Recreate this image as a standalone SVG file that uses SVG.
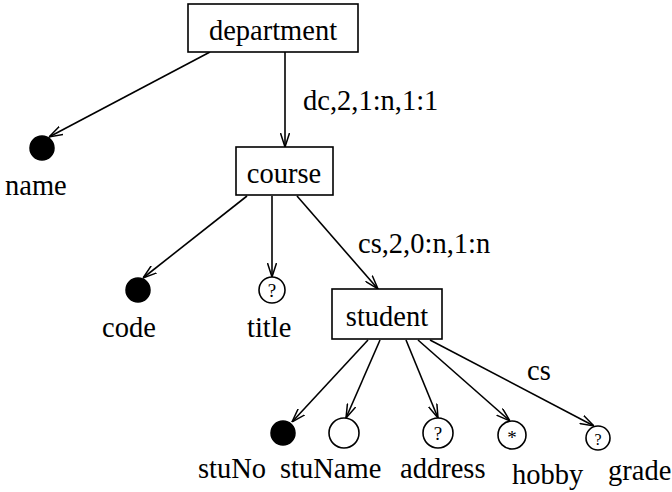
<svg xmlns="http://www.w3.org/2000/svg" width="672" height="492" viewBox="0 0 672 492">
<style>
.box{fill:#fff;stroke:#000;stroke-width:1.6}
.t{font-family:"Liberation Serif","Times New Roman",serif;font-size:28.5px;fill:#000}
.m{font-family:"Liberation Serif","Times New Roman",serif;font-size:19px;fill:#000;text-anchor:middle}
.c{text-anchor:middle}
.dot{fill:#000;stroke:#000;stroke-width:1.5}
.open{fill:#fff;stroke:#000;stroke-width:1.6}
.e{stroke:#000;stroke-width:1.6;fill:none;marker-end:url(#arr)}
</style>
<defs>
<marker id="arr" viewBox="0 0 14 10" refX="14" refY="5" markerWidth="14" markerHeight="10" markerUnits="userSpaceOnUse" orient="auto">
<path d="M0,0.5 L14,5 L0,9.5" fill="none" stroke="#000" stroke-width="1.5"/>
</marker>
</defs>
<rect width="672" height="492" fill="#fff"/>
<g id="connectors">
<line class="e" x1="210" y1="52" x2="49" y2="137"/>
<line class="e" x1="285" y1="52" x2="285" y2="147"/>
<line class="e" x1="247" y1="196" x2="143" y2="278"/>
<line class="e" x1="272" y1="196" x2="272" y2="277"/>
<line class="e" x1="297" y1="196" x2="378" y2="289"/>
<line class="e" x1="368" y1="340" x2="292" y2="422"/>
<line class="e" x1="380" y1="340" x2="346" y2="418"/>
<line class="e" x1="406" y1="340" x2="438" y2="418"/>
<line class="e" x1="418" y1="340" x2="510" y2="421"/>
<line class="e" x1="430" y1="340" x2="594" y2="426"/>
<text class="t" x="303" y="110">dc,2,1:n,1:1</text>
<text class="t" x="358" y="253">cs,2,0:n,1:n</text>
<text class="t" x="527" y="380">cs</text>
</g>
<g id="department">
<rect class="box" x="188" y="4" width="170" height="48"/>
<text class="t c" x="273" y="40">department</text>
</g>
<g id="name">
<circle class="dot" cx="42" cy="148" r="12"/>
<text class="t" x="5" y="195">name</text>
</g>
<g id="course">
<rect class="box" x="236" y="147" width="97" height="48"/>
<text class="t c" x="284" y="183">course</text>
</g>
<g id="code">
<circle class="dot" cx="138" cy="290" r="12"/>
<text class="t" x="102" y="337">code</text>
</g>
<g id="title">
<circle class="open" cx="272" cy="290" r="13"/>
<text class="m" x="272" y="297">?</text>
<text class="t" x="247" y="337">title</text>
</g>
<g id="student">
<rect class="box" x="332" y="289" width="110" height="50"/>
<text class="t c" x="387" y="326">student</text>
</g>
<g id="stuNo">
<circle class="dot" cx="283" cy="433" r="12"/>
<text class="t" x="198" y="478">stuNo</text>
</g>
<g id="stuName">
<circle class="open" cx="344" cy="433" r="15"/>
<text class="t" x="280" y="478">stuName</text>
</g>
<g id="address">
<circle class="open" cx="438" cy="433" r="15"/>
<text class="m" x="438" y="440">?</text>
<text class="t" x="400" y="478">address</text>
</g>
<g id="hobby">
<circle class="open" cx="512" cy="435" r="14"/>
<text class="m" x="512" y="444">*</text>
<text class="t" x="512" y="484">hobby</text>
</g>
<g id="grade">
<circle class="open" cx="598" cy="438" r="12"/>
<text class="m" x="598" y="445" style="font-size:16px">?</text>
<text class="t" x="608" y="480">grade</text>
</g>
</svg>
